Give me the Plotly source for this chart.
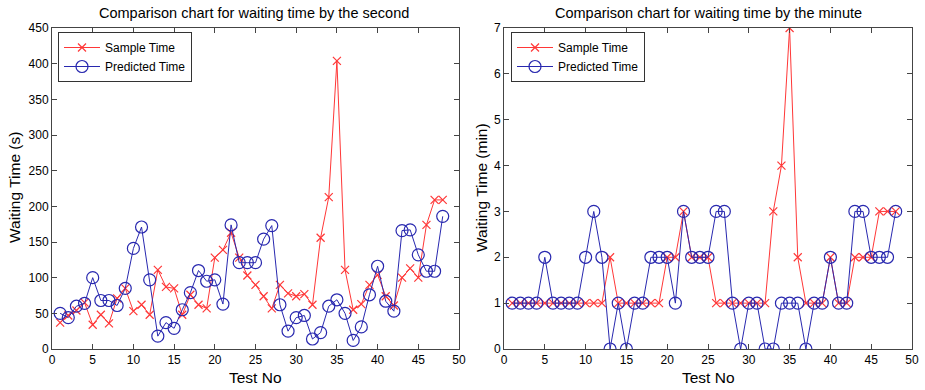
import plotly.graph_objects as go

test_no = list(range(1, 49))

sample_sec = [37, 47, 54, 65, 34, 48, 36, 71, 85, 53, 62, 48, 111, 87, 85, 48, 76, 62, 57, 128,
              139, 163, 128, 103, 90, 74, 57, 90, 78, 74, 77, 62, 156, 213, 404, 111, 55, 63, 90, 104,
              74, 61, 100, 113, 100, 174, 209, 209]
pred_sec = [50, 44, 60, 64, 100, 68, 68, 61, 85, 141, 171, 97, 18, 37, 29, 55, 79, 110, 95, 97,
            63, 174, 121, 121, 121, 154, 173, 62, 25, 44, 47, 14, 23, 60, 69, 50, 12, 31, 76, 116,
            67, 53, 166, 167, 132, 109, 109, 186]

sample_min = [1, 1, 1, 1, 1, 1, 1, 1, 1, 1, 1, 1, 2, 1, 1, 1, 1, 1, 1, 2,
              2, 3, 2, 2, 2, 1, 1, 1, 1, 1, 1, 1, 3, 4, 7, 2, 1, 1, 1, 2,
              1, 1, 2, 2, 2, 3, 3, 3]
pred_min = [1, 1, 1, 1, 2, 1, 1, 1, 1, 2, 3, 2, 0, 1, 0, 1, 1, 2, 2, 2,
            1, 3, 2, 2, 2, 3, 3, 1, 0, 1, 1, 0, 0, 1, 1, 1, 0, 1, 1, 2,
            1, 1, 3, 3, 2, 2, 2, 3]

titles = ["Comparison chart for waiting time by the second",
          "Comparison chart for waiting time by the minute"]
y_titles = ["Waiting Time (s)", "Waiting Time (min)"]
x_title = "Test No"

RED = "rgb(255,55,55)"
BLUE = "rgb(40,40,175)"
FONT = "Liberation Sans, Arial, sans-serif"

fig = go.Figure()

def add_pair(xaxis, yaxis, legend, s, p):
    fig.add_trace(go.Scatter(x=test_no, y=s, mode="lines+markers", name="Sample Time",
                             xaxis=xaxis, yaxis=yaxis, legend=legend,
                             line=dict(color=RED, width=1),
                             marker=dict(symbol="x-thin", size=8, line=dict(color=RED, width=1.2))))
    fig.add_trace(go.Scatter(x=test_no, y=p, mode="lines+markers", name="Predicted Time",
                             xaxis=xaxis, yaxis=yaxis, legend=legend,
                             line=dict(color=BLUE, width=1),
                             marker=dict(symbol="circle-open", size=12, color=BLUE,
                                         line=dict(color=BLUE, width=1.2))))

add_pair("x", "y", "legend", sample_sec, pred_sec)
add_pair("x2", "y2", "legend2", sample_min, pred_min)

ax_common = dict(showgrid=False, zeroline=False, showline=True, linecolor="#444", linewidth=1,
                 mirror="ticks", ticks="inside", ticklen=5, tickcolor="#444", automargin=False,
                 tickfont=dict(family=FONT, size=12, color="black"))

W, H = 925, 390
# plot area in reference pixels: x 52..912 (with gap), y 28..349
L, T = 52, 28
R = W - 912
B = H - 349
PW, PH = W - L - R, H - T - B

def px_x(x):
    return (x - L) / PW

def px_y(y):
    return (H - B - y) / PH

legend_common = dict(xanchor="left", yanchor="top", bgcolor="white",
                     bordercolor="#333", borderwidth=1, font=dict(size=12),
                     tracegroupgap=0, itemwidth=36)

fig.update_layout(
    width=W, height=H,
    margin=dict(l=L, r=R, t=T, b=B),
    paper_bgcolor="white", plot_bgcolor="white",
    font=dict(family=FONT, color="black"),
    xaxis=dict(domain=[0, px_x(459)], range=[0, 50], dtick=5, **ax_common),
    yaxis=dict(range=[0, 450], dtick=50, **ax_common),
    xaxis2=dict(domain=[px_x(504), 1], range=[0, 50], dtick=5, anchor="y2", **ax_common),
    yaxis2=dict(range=[0, 7], dtick=1, anchor="x2", **ax_common),
    legend=dict(x=px_x(58), y=px_y(32), **legend_common),
    legend2=dict(x=px_x(511), y=px_y(32), **legend_common),
    annotations=[
        dict(text=titles[0], x=px_x(254), y=px_y(13), xref="paper", yref="paper",
             yanchor="middle", xanchor="center", showarrow=False, font=dict(size=14.5)),
        dict(text=titles[1], x=px_x(708), y=px_y(13), xref="paper", yref="paper",
             yanchor="middle", xanchor="center", showarrow=False, font=dict(size=14.5)),
        dict(text=x_title, x=px_x(255), y=px_y(377), xref="paper", yref="paper",
             yanchor="middle", xanchor="center", showarrow=False, font=dict(size=15.5)),
        dict(text=x_title, x=px_x(708), y=px_y(377), xref="paper", yref="paper",
             yanchor="middle", xanchor="center", showarrow=False, font=dict(size=15.5)),
        dict(text=y_titles[0], x=px_x(14), y=px_y(188), xref="paper", yref="paper", textangle=-90,
             yanchor="middle", xanchor="center", showarrow=False, font=dict(size=15.5)),
        dict(text=y_titles[1], x=px_x(481), y=px_y(188), xref="paper", yref="paper", textangle=-90,
             yanchor="middle", xanchor="center", showarrow=False, font=dict(size=15.5)),
    ],
)

fig.write_html("out.html", config={"displayModeBar": False},
               post_script="document.body.style.margin='0';")
